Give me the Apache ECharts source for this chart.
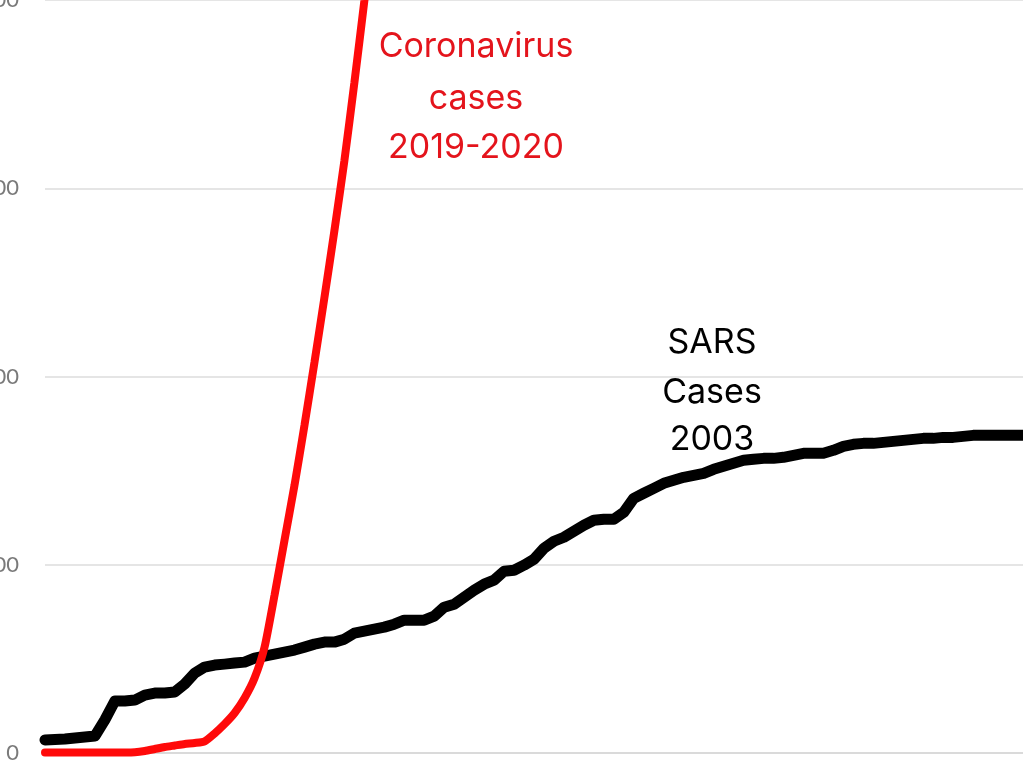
<!DOCTYPE html>
<html>
<head>
<meta charset="utf-8">
<script src="https://cdn.jsdelivr.net/npm/echarts@6/dist/echarts.min.js"></script>
<style>
  html, body { margin: 0; padding: 0; background: #fff; }
  #chart { width: 1023px; height: 768px; }
</style>
</head>
<body>
<div id="chart"></div>
<script>
// days since the first reported cases
const days = [];
for (let d = 0; d <= 98; d++) days.push(d);

const yTicks = [0, 5000, 10000, 15000, 20000];

const sarsCases = [
  345, 358, 371, 398, 424, 451, 880, 1380, 1380, 1406,
  1539, 1592, 1592, 1618, 1831, 2122, 2282, 2335, 2361, 2388,
  2414, 2520, 2573, 2626, 2680, 2733, 2812, 2892, 2945, 2945,
  3024, 3184, 3237, 3290, 3343, 3422, 3528, 3528, 3528, 3635,
  3873, 3953, 4139, 4324, 4484, 4590, 4828, 4855, 4988, 5147,
  5439, 5624, 5730, 5890, 6049, 6181, 6208, 6208, 6394, 6765,
  6898, 7030, 7163, 7243, 7322, 7375, 7428, 7535, 7614, 7694,
  7773, 7800, 7826, 7826, 7853, 7906, 7959, 7959, 7959, 8039,
  8145, 8198, 8224, 8224, 8251, 8277, 8304, 8330, 8357, 8357,
  8383, 8383, 8410, 8437, 8437, 8437, 8437, 8437, 8437
];

const coronaCases = [
  15, 15, 15, 15, 15, 15, 15, 15, 15, 20,
  53, 106, 159, 199, 239, 265, 310, 520, 769, 1061,
  1459, 1990, 2812, 4192, 5651, 7110, 8700, 10373, 12098, 13875,
  15730, 17800, 19977, 22300
];

const chart = echarts.init(document.getElementById('chart'));

const labelFont = '34px Inter';

const option = {
  animation: false,
  grid: { left: 45, right: 0, top: 0, bottom: 15, outerBoundsMode: 'none', containLabel: false },
  xAxis: {
    type: 'category',
    boundaryGap: false,
    data: days,
    axisLine: { show: true, lineStyle: { color: '#dadada', width: 2 } },
    axisTick: { show: false },
    axisLabel: { show: false }
  },
  yAxis: {
    type: 'value',
    min: yTicks[0],
    max: yTicks[yTicks.length - 1],
    interval: yTicks[1] - yTicks[0],
    axisLine: { show: false },
    axisTick: { show: false },
    axisLabel: {
      margin: 26,
      color: '#7a7a7a',
      fontSize: 22,
      fontFamily: 'Lato',
      formatter: (v) => String(v)
    },
    splitLine: { lineStyle: { color: '#dcdcdc', width: 1.5 } }
  },
  series: [
    {
      name: 'SARS',
      type: 'line',
      data: sarsCases,
      showSymbol: false,
      lineStyle: { color: '#000', width: 11, join: 'round', cap: 'round' },
      z: 2
    },
    {
      name: 'Coronavirus',
      type: 'line',
      data: coronaCases,
      smooth: 0.2,
      showSymbol: false,
      lineStyle: { color: '#ff0a0a', width: 8, cap: 'round' },
      z: 3
    }
  ],
  graphic: [
    { type: 'text', x: 476, y: 47, style: { text: 'Coronavirus', textAlign: 'center', textVerticalAlign: 'middle', fill: '#e4141c', font: labelFont } },
    { type: 'text', x: 476, y: 99, style: { text: 'cases', textAlign: 'center', textVerticalAlign: 'middle', fill: '#e4141c', font: labelFont } },
    { type: 'text', x: 476, y: 148, style: { text: '2019-2020', textAlign: 'center', textVerticalAlign: 'middle', fill: '#e4141c', font: labelFont } },
    { type: 'text', x: 712, y: 343, style: { text: 'SARS', textAlign: 'center', textVerticalAlign: 'middle', fill: '#000', font: labelFont } },
    { type: 'text', x: 712, y: 393, style: { text: 'Cases', textAlign: 'center', textVerticalAlign: 'middle', fill: '#000', font: labelFont } },
    { type: 'text', x: 712, y: 440, style: { text: '2003', textAlign: 'center', textVerticalAlign: 'middle', fill: '#000', font: labelFont } }
  ]
};

chart.setOption(option);
window.addEventListener('resize', () => {
  chart.resize();
});
</script>
</body>
</html>
